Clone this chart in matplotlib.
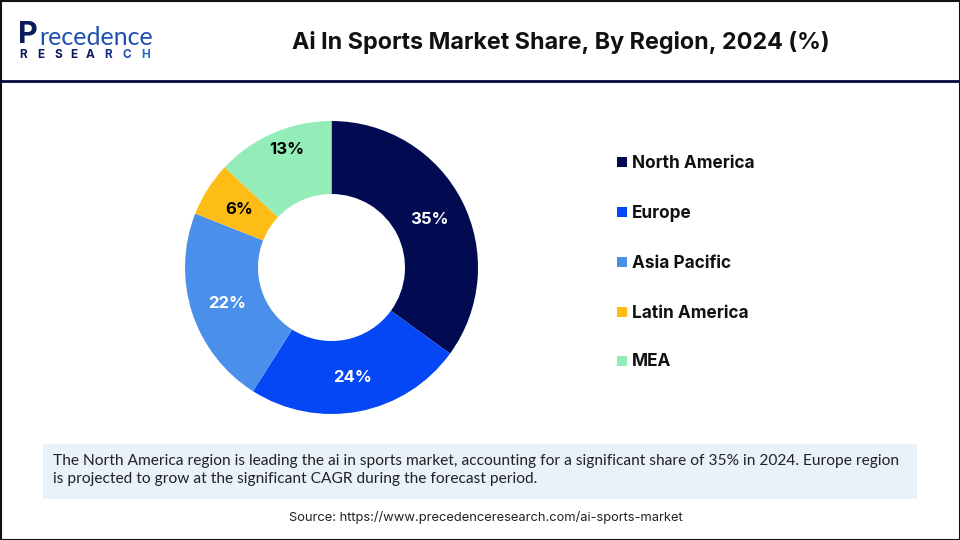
import matplotlib
matplotlib.use('Agg')
import matplotlib.pyplot as plt
from matplotlib.patches import Rectangle

regions = ['North America', 'Europe', 'Asia Pacific', 'Latin America', 'MEA']
shares = [35, 24, 22, 6, 13]
colors = ['#020a52', '#0546f5', '#4a90eb', '#fdbd16', '#94ecb8']
label_colors = ['white', 'white', 'white', 'black', 'black']

title = 'Ai In Sports Market Share, By Region, 2024 (%)'
note = ('The North America region is leading the ai in sports market, accounting for a significant share of 35% in 2024. Europe region\n'
        'is projected to grow at the significant CAGR during the forecast period.')
source = 'Source: https://www.precedenceresearch.com/ai-sports-market'

plt.rcParams['font.family'] = ['Inter', 'DejaVu Sans']

fig = plt.figure(figsize=(9.6, 5.4), dpi=100)

# overlay in pixel coords, y going down like the picture
bg = fig.add_axes([0, 0, 1, 1])
bg.set_xlim(0, 960)
bg.set_ylim(540, 0)
bg.axis('off')

bg.add_patch(Rectangle((0.5, 0.5), 959, 539, fill=False, edgecolor='#111111', linewidth=1.5))
bg.plot([0, 960], [80.5, 80.5], color='#050a3c', linewidth=2)

# logo as text
bg.text(18, 43, 'P', fontsize=22, fontweight='bold', color='#0a1a5c', va='baseline', ha='left')
bg.text(39, 45, 'recedence', fontsize=18, color='#1f4fb0', va='baseline', ha='left', family='Lato')
for ch, x, c in zip('RESEARCH', [23, 41, 58, 74, 90, 108, 127, 146],
                    ['#0a1a5c'] * 5 + ['#12307f', '#1f4fb0', '#2a66cc']):
    bg.text(x, 55, ch, fontsize=8.5, fontweight='bold', color=c, va='center', ha='center')

bg.text(560.5, 42.5, title, fontsize=16.8, fontweight='bold', color='#111111', ha='center', va='center')

# legend
leg_y = [162, 212, 262, 312, 361]
for name, c, y in zip(regions, colors, leg_y):
    bg.add_patch(Rectangle((617, y - 5), 10, 10, facecolor=c, edgecolor='none'))
    bg.text(632, y + 1, name, fontsize=12.4, fontweight='bold', color='#111111', va='center', ha='left')

# note box and source
bg.add_patch(Rectangle((43, 444), 874, 55, facecolor='#e9f1fa', edgecolor='none'))
bg.text(53, 470, note, fontsize=11.2, color='#222222', va='center', ha='left', linespacing=1.42, family='Lato')
bg.text(486, 518, source, fontsize=9.3, color='#222222', ha='center', va='center')

# donut
ax = fig.add_axes([(331.5 - 146.5) / 960, 1 - (267.5 + 146.5) / 540, 293 / 960, 293 / 540])
wedges, _ = ax.pie(shares, colors=colors, startangle=90, counterclock=False, radius=1,
                   wedgeprops=dict(width=73 / 146.5))
ax.set_xlim(-1, 1)
ax.set_ylim(-1, 1)

label_pos = [(429, 219), (352, 377), (227, 303), (239, 210), (287, 150)]
for val, c, (x, y) in zip(shares, label_colors, label_pos):
    bg.text(x, y, f'{val}%', fontsize=12, fontweight='bold', color=c, ha='center', va='center', zorder=10)
bg.set_zorder(ax.get_zorder() + 1)
bg.patch.set_visible(False)

fig.savefig('out.png', dpi=100)
